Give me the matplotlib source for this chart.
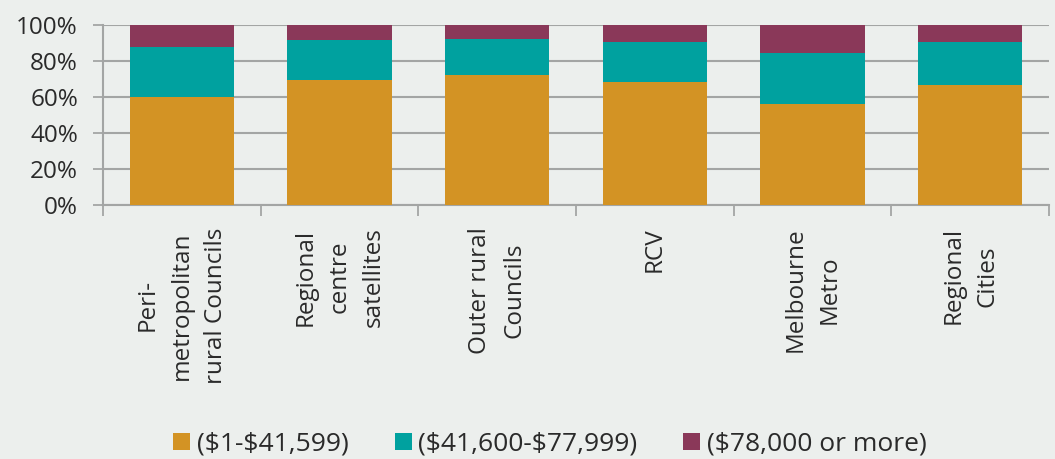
import matplotlib
matplotlib.use("Agg")
import matplotlib.pyplot as plt
from matplotlib.patches import Patch
import numpy as np

plt.rcParams['font.family'] = ['Open Sans', 'DejaVu Sans']
plt.rcParams['text.parse_math'] = False

categories = [
    "Peri-\nmetropolitan\nrural Councils",
    "Regional\ncentre\nsatellites",
    "Outer rural\nCouncils",
    "RCV",
    "Melbourne\nMetro",
    "Regional\nCities",
]
# Share of households in each income band (%)
low_income = [60.2, 69.4, 72.4, 68.3, 56.3, 66.5]
mid_income = [27.4, 22.1, 20.0, 22.4, 28.3, 24.1]
high_income = [12.4, 8.5, 7.6, 9.3, 15.4, 9.4]
series_labels = ["($1-$41,599)", "($41,600-$77,999)", "($78,000 or more)"]
y_ticks = [0, 20, 40, 60, 80, 100]
y_tick_labels = ["0%", "20%", "40%", "60%", "80%", "100%"]

colors = ["#D39324", "#00A19F", "#8A3859"]
bg = "#ECEFED"
grid_col = "#A3A5A4"
text_col = "#2A2A2A"

W, H = 1055, 459
fig = plt.figure(figsize=(W / 100, H / 100), dpi=100, facecolor=bg)
ax = fig.add_axes([103 / W, 1 - 205 / H, (1049 - 103) / W, 180 / H])
ax.set_facecolor(bg)

x = np.arange(len(categories))
bottom = np.zeros(len(categories))
for vals, col in zip([low_income, mid_income, high_income], colors):
    ax.bar(x, vals, width=0.66, bottom=bottom, color=col, zorder=3)
    bottom += np.array(vals)

ax.set_xlim(-0.5, len(categories) - 0.5)
ax.set_ylim(0, 100)

ax.set_yticks(y_ticks)
ax.set_yticklabels(y_tick_labels, fontsize=17.5, color=text_col)
ax.tick_params(axis='y', length=7, width=1.3, color=grid_col, pad=11)
ax.yaxis.grid(True, color=grid_col, linewidth=1.5, zorder=0)

ax.set_xticks(x)
ax.set_xticklabels(categories, rotation=90, fontsize=17.5, color=text_col,
                   linespacing=1.55)
ax.tick_params(axis='x', which='major', length=0, pad=16)
ax.set_xticks(np.arange(-0.5, len(categories)), minor=True)
ax.tick_params(axis='x', which='minor', length=8, width=1.3, color=grid_col)

for s in ['top', 'right']:
    ax.spines[s].set_visible(False)
ax.spines['left'].set_color(grid_col)
ax.spines['left'].set_linewidth(1.5)
ax.spines['bottom'].set_color(grid_col)
ax.spines['bottom'].set_linewidth(1.5)
ax.set_axisbelow(True)

handles = [Patch(facecolor=c, edgecolor='none') for c in colors]
fig.legend(handles, series_labels, loc='center', bbox_to_anchor=(550 / W, 1 - 444 / H),
           ncol=3, frameon=False, fontsize=19, handlelength=0.64, handleheight=0.64,
           handletextpad=0.25, columnspacing=1.75, labelcolor=text_col)

fig.savefig("out.png", dpi=100, facecolor=bg)
